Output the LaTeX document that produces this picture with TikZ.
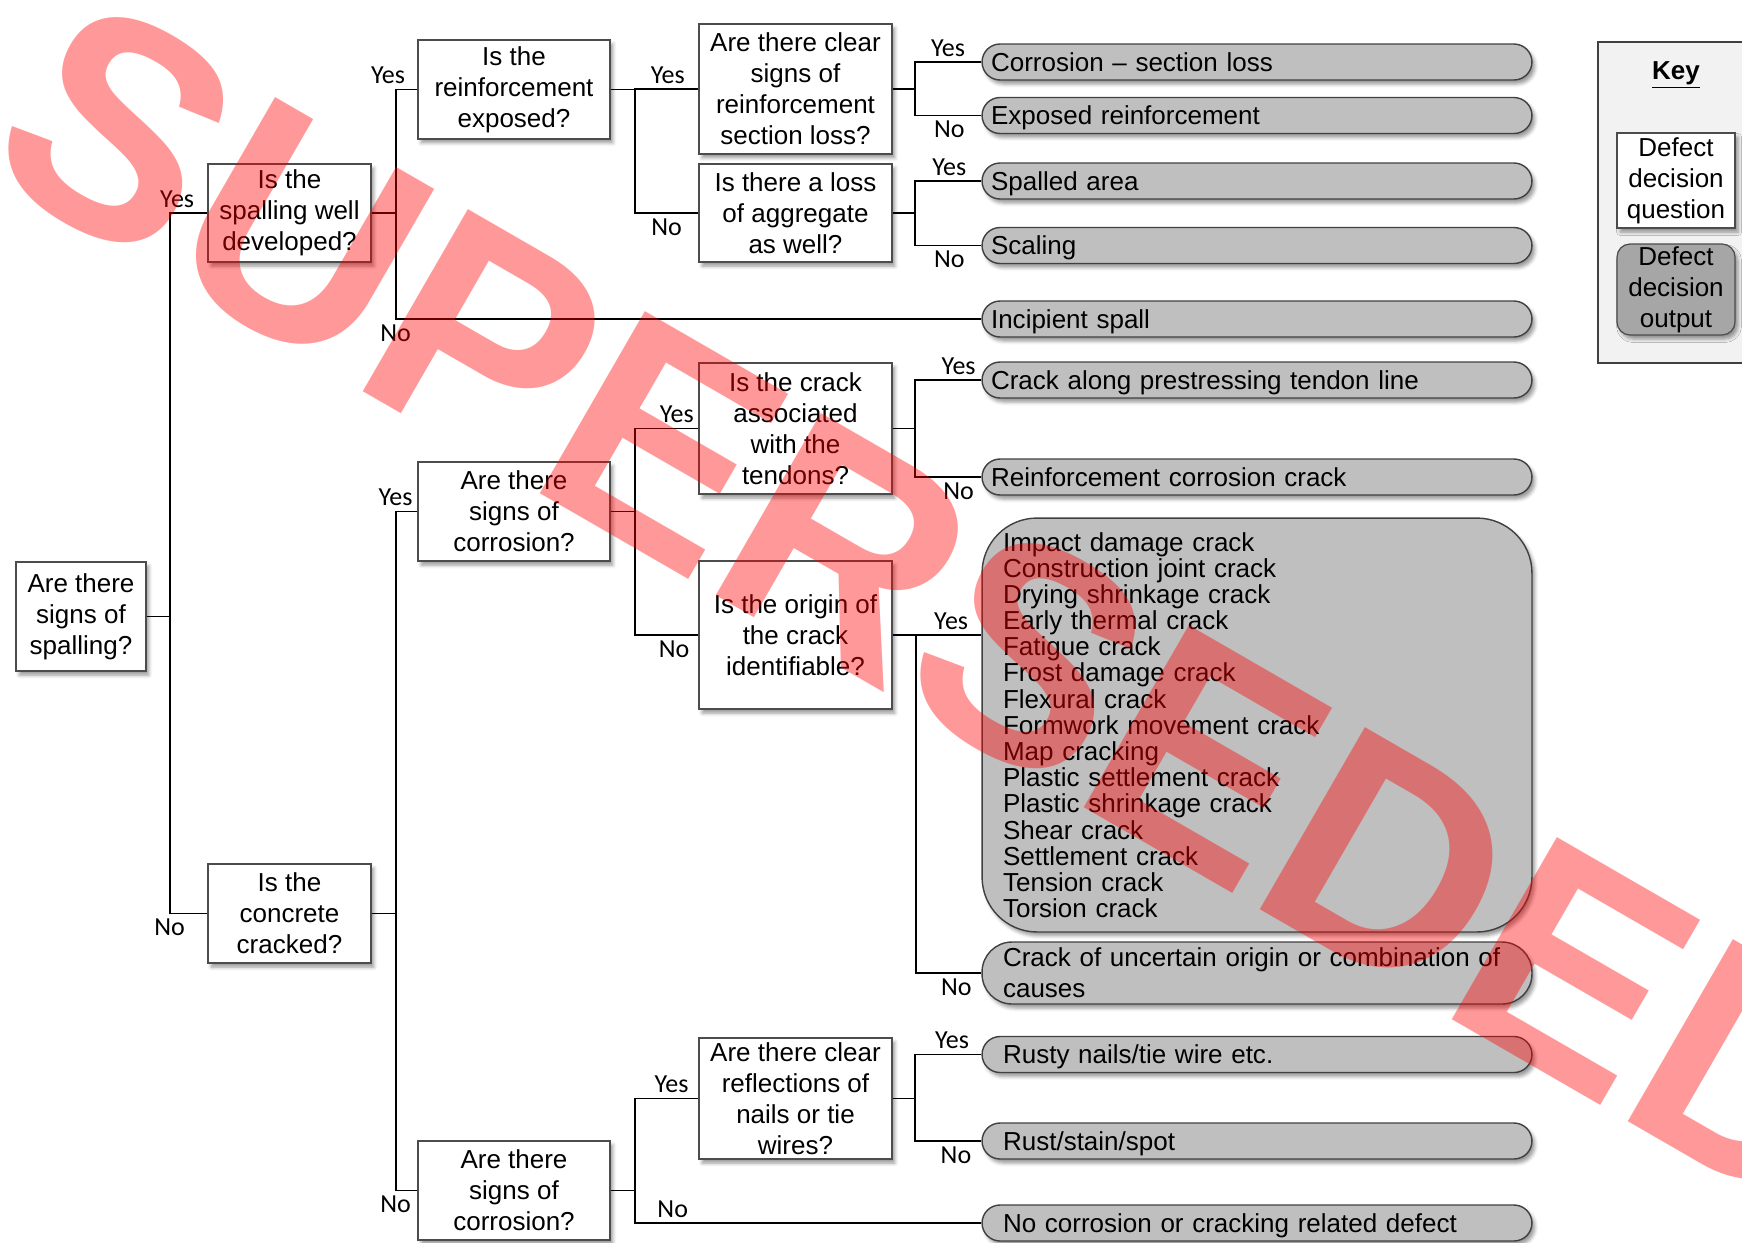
\documentclass[tikz,border=0pt]{standalone}
\usepackage{fontspec}
\setmainfont{Liberation Sans}
\newfontfamily\yesnofont{Carlito}
\usetikzlibrary{positioning,calc,shadows.blur}

\begin{document}
\begin{tikzpicture}[x=0.02cm, y=-0.02cm, font=\fontsize{14.8}{17.6}\selectfont,
  link/.style={line width=1.1pt},
  qbox/.style={draw=black!70, line width=0.7pt, fill=white, align=center, inner sep=0pt,
    blur shadow={shadow xshift=0.06cm, shadow yshift=-0.08cm, shadow blur radius=0.07cm}},
  outbase/.style={draw=black!75, line width=0.8pt, fill=black!25, align=left, inner ysep=0pt,
    blur shadow={shadow xshift=0.06cm, shadow yshift=-0.08cm, shadow blur radius=0.07cm}},
  oneline/.style={minimum height=0.72cm, text height=0.48cm, text depth=0.108cm, rounded corners=0.36cm},
  outA/.style={outbase, oneline, inner xsep=0.18cm, text width=10.64cm},
  outB/.style={outbase, inner xsep=0.42cm, text width=10.16cm},
  lbl/.style={font=\yesnofont\fontsize{14.8}{16}\selectfont, inner sep=0.09cm},
  wmark/.style={rotate=-30, text=red, opacity=0.4, inner sep=0pt,
    font=\fontsize{174}{174}\selectfont\bfseries}
]
  % Canvas
  \useasboundingbox (0,0) rectangle (1742,1242);
  \clip (0,0) rectangle (1742,1242);

  % Questions
  \node[qbox, minimum width=2.6cm, minimum height=2.18cm] (spall) at (81,616.5) {Are there\\signs of\\spalling?};
  \node[qbox, minimum width=3.26cm, minimum height=1.96cm] (welldev) at (289.5,213) {Is the\\spalling well\\developed?};
  \node[qbox, minimum width=3.26cm, minimum height=1.98cm] (cracked) at (289.5,913.5) {Is the\\concrete\\cracked?};
  \node[qbox, minimum width=3.84cm, minimum height=1.98cm] (exposed) at (514,89.5) {Is the\\reinforcement\\exposed?};
  \node[qbox, minimum width=3.84cm, minimum height=1.98cm] (corrA) at (514,511.5) {Are there\\signs of\\corrosion?};
  \node[qbox, minimum width=3.84cm, minimum height=1.98cm] (corrB) at (514,1190.5) {Are there\\signs of\\corrosion?};
  \node[qbox, minimum width=3.86cm, minimum height=2.6cm] (secloss) at (795.5,89) {Are there clear\\signs of\\reinforcement\\section loss?};
  \node[qbox, minimum width=3.86cm, minimum height=1.96cm] (aggloss) at (795.5,213) {Is there a loss\\of aggregate\\as well?};
  \node[qbox, minimum width=3.86cm, minimum height=2.62cm] (tendon) at (795.5,428.5) {Is the crack\\associated\\with the\\tendons?};
  \node[qbox, minimum width=3.86cm, minimum height=2.96cm] (origin) at (795.5,635) {Is the origin of\\the crack\\identifiable?};
  \node[qbox, minimum width=3.86cm, minimum height=2.42cm] (nails) at (795.5,1098.5) {Are there clear\\reflections of\\nails or tie\\wires?};

  % Outputs
  \node[outA] (oSecloss) at (1257,62) {Corrosion – section loss};
  \node[outA] (oExposed) at (1257,115.5) {Exposed reinforcement};
  \node[outA] (oSpalled) at (1257,181) {Spalled area};
  \node[outA] (oScaling) at (1257,245.5) {Scaling};
  \node[outA] (oIncip) at (1257,319) {Incipient spall};
  \node[outA] (oTendon) at (1257,380) {Crack along prestressing tendon line};
  \node[outA] (oRcc) at (1257,477) {Reinforcement corrosion crack};
  \node[outB, rounded corners=1.1cm, minimum height=8.28cm, font=\fontsize{14.8}{14.9}\selectfont] (oList) at (1257,725) {%
    Impact damage crack\\Construction joint crack\\Drying shrinkage crack\\Early thermal crack\\%
    Fatigue crack\\Frost damage crack\\Flexural crack\\Formwork movement crack\\Map cracking\\%
    Plastic settlement crack\\Plastic shrinkage crack\\Shear crack\\Settlement crack\\%
    Tension crack\\Torsion crack};
  \node[outB, rounded corners=0.6cm, minimum height=1.24cm] (oUncert) at (1257,973) {Crack of uncertain origin or combination of\\causes};
  \node[outB, oneline] (oRusty) at (1257,1054.5) {Rusty nails/tie wire etc.};
  \node[outB, oneline] (oStain) at (1257,1141) {Rust/stain/spot};
  \node[outB, oneline] (oNone) at (1257,1223) {No corrosion or cracking related defect};

  % Connectors
  \draw[link] (spall.east) -- ++(23,0) |- node[lbl, above, pos=0.6] {Yes} (welldev.west);
  \draw[link] (spall.east) -- ++(23,0) |- node[lbl, below, pos=0.5] {No} (cracked.west);
  \draw[link] (welldev.east) -- ++(24,0) |- node[lbl, above, pos=0.5, xshift=-0.15cm] {Yes} (exposed.west);
  \draw[link] (welldev.east) -- ++(24,0) |- node[lbl, below, pos=0.5] {No} (oIncip.west);
  \draw[link] (exposed.east) -- ++(24,0) |- node[lbl, above, pos=0.76] {Yes} (secloss.west);
  \draw[link] (exposed.east) -- ++(24,0) |- node[lbl, below, pos=0.75] {No} (aggloss.west);
  \draw[link] (secloss.east) -- ++(22,0) |- node[lbl, above, pos=0.75] {Yes} (oSecloss.west);
  \draw[link] (secloss.east) -- ++(22,0) |- node[lbl, below, pos=0.76] {No} (oExposed.west);
  \draw[link] (aggloss.east) -- ++(22,0) |- node[lbl, above, pos=0.76] {Yes} (oSpalled.west);
  \draw[link] (aggloss.east) -- ++(22,0) |- node[lbl, below, pos=0.76] {No} (oScaling.west);
  \draw[link] (cracked.east) -- ++(24,0) |- node[lbl, above, pos=0.5] {Yes} (corrA.west);
  \draw[link] (cracked.east) -- ++(24,0) |- node[lbl, below, pos=0.5] {No} (corrB.west);
  \draw[link] (corrA.east) -- ++(24,0) |- node[lbl, above, pos=0.83] {Yes} (tendon.west);
  \draw[link] (corrA.east) -- ++(24,0) |- node[lbl, below, pos=0.81] {No} (origin.west);
  \draw[link] (tendon.east) -- ++(22,0) |- node[lbl, above, pos=0.83] {Yes} (oTendon.west);
  \draw[link] (tendon.east) -- ++(22,0) |- node[lbl, below, pos=0.83] {No} (oRcc.west);
  \draw[link] (origin.east) -- node[lbl, above, pos=0.66] {Yes} (origin.east -| oList.west);
  \draw[link] (origin.east) -- ++(23,0) |- node[lbl, below, pos=0.81] {No} (oUncert.west);
  \draw[link] (corrB.east) -- ++(24,0) |- node[lbl, above, pos=0.79] {Yes} (nails.west);
  \draw[link] (corrB.east) -- ++(24,0) |- node[lbl, above, pos=0.555] {No} (oNone.west);
  \draw[link] (nails.east) -- ++(22,0) |- node[lbl, above, pos=0.78] {Yes} (oRusty.west);
  \draw[link] (nails.east) -- ++(22,0) |- node[lbl, below, pos=0.81] {No} (oStain.west);

  % Key
  \draw[draw=black!75, fill=black!5, line width=0.8pt] (1598,42) rectangle (1790,363);
  \node (keyTitle) at (1676,75) {\textbf{\underline{Key}}};
  \node[qbox, minimum width=2.36cm, minimum height=1.9cm] (keyQ) at (1676,180.5) {Defect\\decision\\question};
  \node[qbox, fill=black!35, rounded corners=0.26cm, minimum width=2.36cm, minimum height=1.82cm] (keyO) at (1676,289.5) {Defect\\decision\\output};

  % Watermark
  \node[wmark] (stamp) at (942.5,604.5) {SUPERSEDED};
\end{tikzpicture}
\end{document}
